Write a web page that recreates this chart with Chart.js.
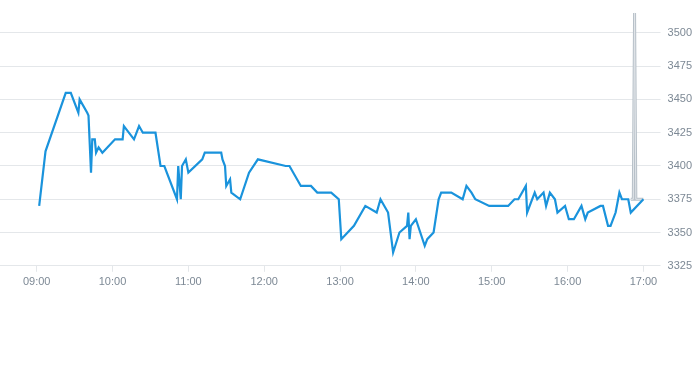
<!DOCTYPE html>
<html>
<head>
<meta charset="utf-8">
<script src="https://cdn.jsdelivr.net/npm/chart.js@4.4.1/dist/chart.umd.min.js"></script>
<style>
  html, body { margin: 0; padding: 0; background: #fff; }
  #wrap { width: 693px; height: 365px; position: relative; }
</style>
</head>
<body>
<div id="wrap"><canvas id="grafico"></canvas></div>
<script>
// serie principal (hora, precio)
const priceTimes = ['09:02','09:07','09:23','09:27','09:33','09:34','09:40','09:41','09:43','09:44','09:46','09:47','09:49','09:52',
  '10:02','10:08','10:09','10:17','10:21','10:24','10:34','10:38','10:41','10:51','10:52','10:54','10:55','10:58',
  '11:00','11:11','11:13','11:26','11:27','11:29','11:30','11:33','11:34','11:41','11:48','11:55',
  '12:17','12:20','12:29','12:37','12:42','12:53','12:59',
  '13:01','13:11','13:20','13:29','13:32','13:38','13:42','13:47','13:53','13:54','13:55','13:56',
  '14:00','14:07','14:09','14:14','14:18','14:20','14:28','14:37','14:40','14:44','14:47','14:58',
  '15:13','15:18','15:21','15:27','15:28','15:34','15:36','15:41','15:43','15:46','15:50','15:52','15:58',
  '16:01','16:05','16:11','16:14','16:16','16:26','16:28','16:32','16:34','16:38','16:41','16:43','16:48','16:50','17:00'];
const priceValues = [3370,3411,3455,3455,3440,3450,3440,3438,3395,3420,3420,3410,3414,3410,
  3420,3420,3430,3420,3430,3425,3425,3400,3400,3375,3400,3375,3400,3405,
  3395,3405,3410,3410,3405,3400,3385,3390,3380,3375,3395,3405,
  3400,3400,3385,3385,3380,3380,3375,
  3345,3355,3370,3365,3375,3365,3335,3350,3355,3365,3345,3355,
  3360,3340,3345,3350,3375,3380,3380,3375,3385,3380,3375,3370,
  3370,3375,3375,3385,3365,3380,3375,3380,3370,3380,3375,3365,3370,
  3360,3360,3370,3360,3365,3370,3370,3355,3355,3365,3380,3375,3375,3365,3375];

// serie gris (pico)
const spikeTimes = ['16:50','16:52','16:53','16:54','17:00'];
const spikeValues = [3375,3375,3515,3375,3375];

const xTicks = ['09:00','10:00','11:00','12:00','13:00','14:00','15:00','16:00','17:00'];
const yTicks = [3325,3350,3375,3400,3425,3450,3475,3500];

function toMin(s) {
    const [h, m] = s.split(':').map(Number);
    return h * 60 + m;
}
function fmt(v) {
    const h = Math.floor(v / 60), m = Math.round(v % 60);
    return String(h).padStart(2, '0') + ':' + String(m).padStart(2, '0');
}
const toPoints = (ts, vs) => ts.map((t, i) => ({ x: toMin(t), y: vs[i] }));

const TICK_COLOR = '#7d8995';
const GRID = '#e4e7ea';

new Chart(document.getElementById('grafico'), {
    type: 'line',
    data: {
        datasets: [
            { data: toPoints(priceTimes, priceValues), borderColor: '#1a93dc', borderWidth: 2.2, pointRadius: 0, tension: 0, order: 0 },
            { data: toPoints(spikeTimes, spikeValues), borderColor: '#e2e6ea', borderWidth: 1, pointRadius: 0, tension: 0, order: 1, clip: false },
            { data: toPoints(spikeTimes, spikeValues), borderColor: '#b7c0c8', borderWidth: 3, pointRadius: 0, tension: 0, order: 2, clip: false }
        ]
    },
    options: {
        responsive: true, maintainAspectRatio: false, animation: false,
        layout: { padding: { top: 6, bottom: 72, left: 0, right: -6 } },
        plugins: { legend: { display: false }, tooltip: { enabled: false } },
        scales: {
            x: {
                type: 'linear', min: 511, max: 1028,
                afterBuildTicks: (s) => { s.ticks = xTicks.map(t => ({ value: toMin(t) })); },
                ticks: { color: TICK_COLOR, font: { size: 11 }, maxRotation: 0, padding: 4, callback: (v) => fmt(v) },
                grid: { drawOnChartArea: false, drawTicks: true, tickLength: 6, color: GRID },
                border: { color: GRID }
            },
            y: {
                position: 'right', min: 3325, max: 3514.5,
                afterBuildTicks: (s) => { s.ticks = yTicks.map(v => ({ value: v })); },
                ticks: { color: TICK_COLOR, font: { size: 11 }, padding: 7, callback: (v) => String(v) },
                grid: { color: GRID, tickLength: 7 },
                border: { display: false }
            }
        }
    }
});
</script>
</body>
</html>
